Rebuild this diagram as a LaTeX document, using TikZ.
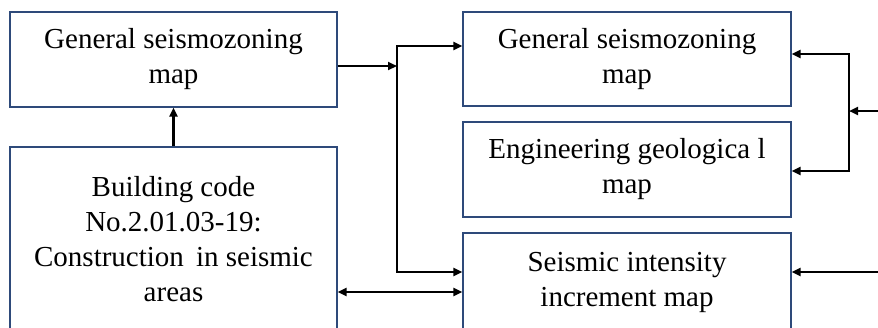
\documentclass[tikz,border=0pt]{standalone}
\usepackage{fontspec}
\setmainfont{Liberation Serif}
\usetikzlibrary{arrows.meta}
\definecolor{boxline}{HTML}{2E4A7A}
\begin{document}
\begin{tikzpicture}[x=1pt, y=-1pt, >={Triangle[length=9pt,width=8pt]},
    mapbox/.style={draw=boxline, line width=1.2pt, align=center, inner sep=0pt,
      font=\fontsize{29}{35}\selectfont},
    link/.style={line width=2.2pt}]
    \clip (0, 0) rectangle (878, 327);
    \node[mapbox, minimum width=327pt, minimum height=95pt] (gszL) at (173.5, 59.5) {General seismozoning\\map};
    \node[mapbox, minimum width=327pt, minimum height=184pt] (code) at (173.5, 239) {Building code\\No.2.01.03-19:\\Construction\, in seismic\\areas};
    \node[mapbox, minimum width=328pt, minimum height=94pt] (gszR) at (627, 59) {General seismozoning\\map};
    \node[mapbox, minimum width=328pt, minimum height=95pt] (geol) at (627, 169.5) {Engineering geologica l\\map};
    \node[mapbox, minimum width=328pt, minimum height=99pt] (incr) at (627, 282.5) {Seismic intensity\\increment map};
    % junctions
    \coordinate (jL) at (397, 66);
    \coordinate (jLtop) at (397, 46);
    \coordinate (jLbot) at (397, 272);
    \coordinate (jRtop) at (849, 54);
    \coordinate (jRbot) at (849, 171);
    \coordinate (inR) at (879, 111);
    \coordinate (inE) at (879, 272);
    \coordinate (dbl) at (400, 292);
    \draw[link, ->] (code.north) -- (gszL.south);
    \draw[link, ->] (gszL.east |- jL) -- (jL);
    \draw[link, <->] (gszR.west |- jLtop) -- (jLtop) -- (jLbot) -- (incr.west |- jLbot);
    \draw[link, <->] (code.east |- dbl) -- (incr.west |- dbl);
    \draw[link, <->] (gszR.east |- jRtop) -- (jRtop) -- (jRbot) -- (geol.east |- jRbot);
    \draw[link, ->] (inR) -- (inR -| jRtop);
    \draw[link, ->] (inE) -- (incr.east |- inE);
\end{tikzpicture}
\end{document}
